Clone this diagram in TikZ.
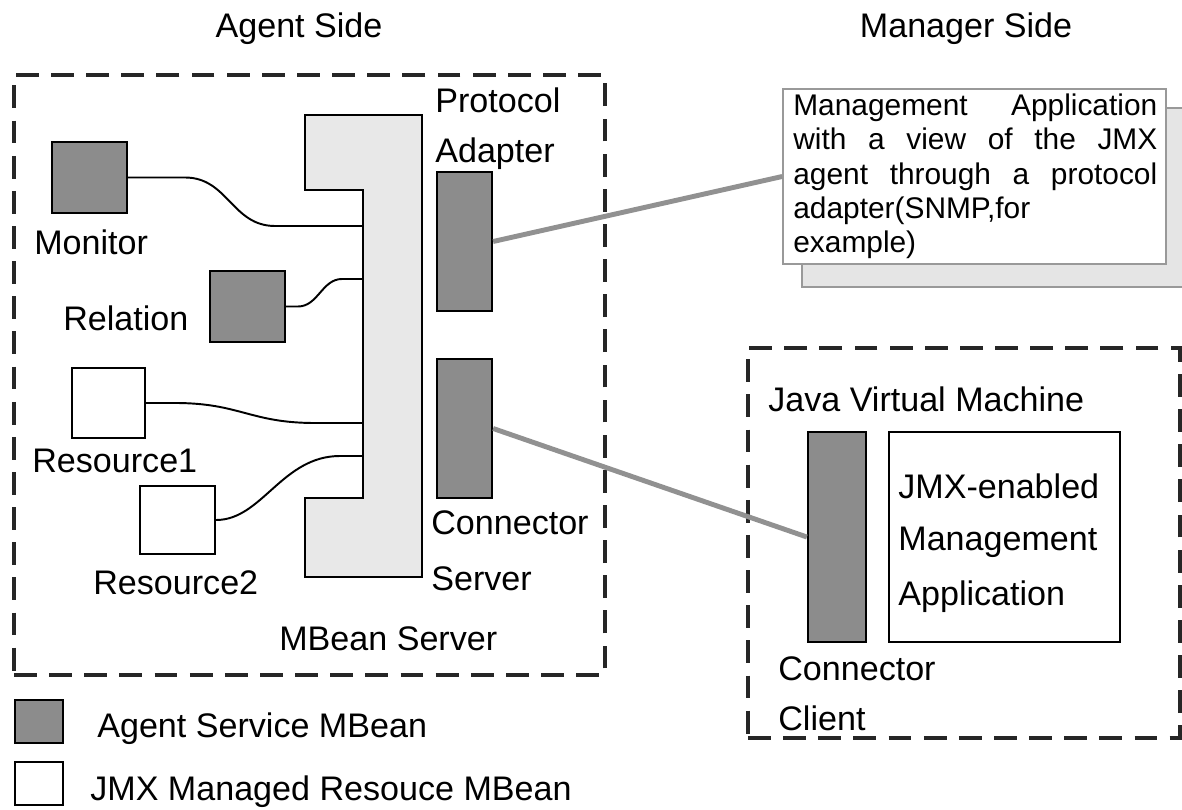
\documentclass[tikz,border=0pt]{standalone}
\usepackage{fontspec}
\setmainfont{Liberation Sans}
\usetikzlibrary{positioning}
\colorlet{beanDark}{black!45}
\colorlet{beanLight}{black!9}
\colorlet{linkGray}{black!43}
\colorlet{boxGray}{black!40}
\newcommand{\jline}[1]{\makebox[7.28cm][s]{#1}}
\tikzset{
  lbl/.style={anchor=base west, inner sep=0pt, font=\fontsize{19.4}{23}\selectfont},
  sidelbl/.style={anchor=base, inner sep=0pt, font=\fontsize{19.4}{23}\selectfont},
  agentbean/.style={draw=black, fill=beanDark, line width=1.3pt, inner sep=0pt},
  resbean/.style={draw=black, fill=white, line width=1.3pt, inner sep=0pt},
  dashbox/.style={draw=black!85, line width=1.8pt, dash pattern=on 13pt off 7pt, inner sep=0pt},
  wire/.style={draw=black, line width=1.1pt},
  link/.style={draw=linkGray, line width=2.8pt},
  notebox/.style={draw=boxGray, fill=white, line width=1pt, inner sep=0pt}
}
\begin{document}
\begin{tikzpicture}[x=0.02cm,y=-0.02cm]
\useasboundingbox (0,0) rectangle (1182,810);

% headings
\node[sidelbl] (agenthd) at (299,38) {Agent Side};
\node[sidelbl] (managerhd) at (966,38) {Manager Side};

% agent side
\node[dashbox, minimum width=11.82cm, minimum height=12cm] (agent) at (309.5,375) {};

\draw[fill=beanLight, draw=black, line width=1.2pt]
  (305,115) -- (422,115) -- (422,577) -- (305,577) -- (305,498)
  -- (363,498) -- (363,190) -- (305,190) -- cycle;
\coordinate (mbsA) at (363,226);
\coordinate (mbsB) at (363,279);
\coordinate (mbsC) at (363,423);
\coordinate (mbsD) at (363,456);

\node[agentbean, minimum width=1.5cm, minimum height=1.42cm] (monitor) at (89.5,177.5) {};
\node[agentbean, minimum width=1.5cm, minimum height=1.42cm] (relation) at (247.5,306.5) {};
\node[resbean, minimum width=1.46cm, minimum height=1.4cm] (res1) at (108.5,403) {};
\node[resbean, minimum width=1.5cm, minimum height=1.36cm] (res2) at (177.5,520) {};
\node[agentbean, minimum width=1.1cm, minimum height=2.78cm] (adapter) at (464.5,241.5) {};
\node[agentbean, minimum width=1.1cm, minimum height=2.78cm] (connsrv) at (464.5,428.5) {};

\draw[wire] (monitor.east) -- (185,177.5) .. controls (228,177.5) and (232,226) .. (275,226) -- (mbsA);
\draw[wire] (relation.east) -- (298,306.5) .. controls (318,306.5) and (322,279) .. (342,279) -- (mbsB);
\draw[wire] (res1.east) -- (175,403) .. controls (240,403) and (250,423) .. (315,423) -- (mbsC);
\draw[wire] (res2.east) .. controls (262,520) and (282,456) .. (340,456) -- (mbsD);

\node[lbl] (monitorlbl) at (34,255) {Monitor};
\node[lbl] (relationlbl) at (63,331) {Relation};
\node[lbl] (res1lbl) at (32,472) {Resource1};
\node[lbl] (res2lbl) at (93,594) {Resource2};
\node[lbl] (protolbl) at (435,113) {Protocol};
\node[lbl] (adaptlbl) at (435,163) {Adapter};
\node[lbl] (connlbl) at (431,534) {Connector};
\node[lbl] (srvlbl) at (431,590) {Server};
\node[lbl] (mbslbl) at (279,650) {MBean Server};

% manager side
\node[draw=boxGray, fill=black!10, line width=1pt, minimum width=7.76cm, minimum height=3.58cm] (mgmtshadow) at (996,197.5) {};
\node[notebox, minimum width=7.66cm, minimum height=3.5cm] (mgmt) at (974.5,176.5) {};
\node[anchor=base west, inner sep=0pt, align=left,
      font=\fontsize{17}{19.6}\selectfont] (mgmttxt) at (793,253)
  {\jline{Management Application}\\
   \jline{with a view of the JMX}\\
   \jline{agent through a protocol}\\
   adapter(SNMP,for\\
   example)};

\node[dashbox, minimum width=8.64cm, minimum height=7.8cm] (jvm) at (964,543) {};
\node[lbl] (jvmlbl) at (768,412) {Java Virtual Machine};
\node[agentbean, minimum width=1.16cm, minimum height=4.2cm] (connclt) at (837,537) {};
\node[resbean, minimum width=4.62cm, minimum height=4.2cm] (jmxapp) at (1004.5,537) {};
\node[lbl] (jmxl1) at (898,498) {JMX-enabled};
\node[lbl] (jmxl2) at (898,550) {Management};
\node[lbl] (jmxl3) at (898,605) {Application};
\node[lbl] (cltl1) at (778,680) {Connector};
\node[lbl] (cltl2) at (778,730) {Client};

% links
\draw[link] (adapter.east) -- (mgmt.west);
\draw[link] (connsrv.east) -- (connclt.west);

% legend
\node[agentbean, minimum width=0.96cm, minimum height=0.86cm] (legdark) at (39,721.5) {};
\node[resbean, minimum width=0.96cm, minimum height=0.86cm] (leglight) at (39,783.5) {};
\node[lbl] (legdarklbl) at (97,737) {Agent Service MBean};
\node[lbl] (leglightlbl) at (90,800) {JMX Managed Resouce MBean};
\end{tikzpicture}
\end{document}
